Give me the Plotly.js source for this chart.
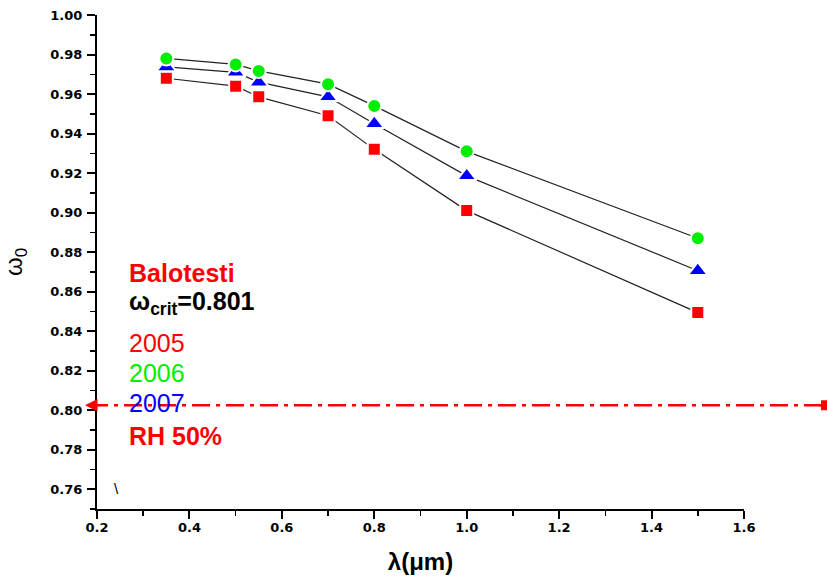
<!DOCTYPE html>
<html>
<head>
<meta charset="utf-8">
<script src="https://cdn.plot.ly/plotly-3.0.1.min.js"></script>
<style>html,body{margin:0;padding:0;background:#fff;}#chart{width:827px;height:582px;}</style>
</head>
<body>
<div id="chart"></div>
<script>
const wavelength = [0.35, 0.5, 0.55, 0.7, 0.8, 1.0, 1.5];
const omega2005 = [0.968, 0.964, 0.9586, 0.949, 0.932, 0.901, 0.8494];
const omega2006 = [0.978, 0.975, 0.9717, 0.965, 0.954, 0.931, 0.887];
const omega2007 = [0.9737, 0.971, 0.966, 0.9586, 0.945, 0.9186, 0.8706];
const omegaCrit = 0.8025;
const xTickVals = [0.2, 0.4, 0.6, 0.8, 1.0, 1.2, 1.4, 1.6];
const yTickVals = [0.76, 0.78, 0.80, 0.82, 0.84, 0.86, 0.88, 0.90, 0.92, 0.94, 0.96, 0.98, 1.00];

function series(y, symbol, color, size) {
  return {
    x: wavelength, y: y, type: 'scatter', mode: 'lines+markers',
    line: {color: '#222', width: 1.2},
    marker: {symbol: symbol, color: color, size: size, line: {color: '#fff', width: 2}},
    cliponaxis: false, showlegend: false, hoverinfo: 'skip'
  };
}

const data = [
  series(omega2005, 'square', '#ff0000', 13),
  series(omega2007, 'triangle-up', '#0000ff', 17),
  series(omega2006, 'circle', '#00ee00', 14)
];

const F = 'Liberation Sans, Arial, sans-serif';
const TF = 'DejaVu Sans, sans-serif';
const py = p => 1 - (p - 15) / (509 - 15);
const txt = (p, text, color, bold) => ({
  xref: 'paper', yref: 'paper', x: (127 - 97) / 647, y: py(p), xanchor: 'left', yanchor: 'middle',
  text: bold ? '<b>' + text + '</b>' : text, showarrow: false,
  font: {family: F, size: 25, color: color}
});

const layout = {
  width: 827, height: 582,
  margin: {l: 97, r: 83, t: 15, b: 73},
  paper_bgcolor: '#fff', plot_bgcolor: '#fff',
  showlegend: false,
  xaxis: {
    range: [0.2, 1.6], tickvals: xTickVals, ticktext: xTickVals.map(v => v.toFixed(1)),
    showgrid: false, zeroline: false, showline: true, linecolor: '#000', linewidth: 2,
    ticks: 'outside', ticklen: 8, tickwidth: 2, tickcolor: '#000',
    minor: {dtick: 0.1, tick0: 0.2, ticks: 'outside', ticklen: 5, tickwidth: 1.5, tickcolor: '#000'},
    tickfont: {family: TF, size: 13, color: '#000', weight: 'bold'},
    ticklabelstandoff: -3,
    title: {text: '<b>λ(μm)</b>', font: {family: F, size: 24, color: '#000'}, standoff: 20}
  },
  yaxis: {
    range: [0.75, 1.0], tickvals: yTickVals, ticktext: yTickVals.map(v => v.toFixed(2)),
    showgrid: false, zeroline: false, showline: true, linecolor: '#000', linewidth: 2,
    ticks: 'outside', ticklen: 8, tickwidth: 2, tickcolor: '#000',
    minor: {dtick: 0.01, tick0: 0.75, ticks: 'outside', ticklen: 5, tickwidth: 1.5, tickcolor: '#000'},
    tickfont: {family: TF, size: 13, color: '#000', weight: 'bold'},
    ticklabelstandoff: 2,
    title: {text: 'ω<sub>0</sub>', font: {family: F, size: 24, color: '#000'}, standoff: 26}
  },
  shapes: [{
    type: 'line', xref: 'paper', yref: 'y',
    x0: (90 - 97) / 647, x1: (823 - 97) / 647, y0: omegaCrit, y1: omegaCrit,
    line: {color: '#ff0000', width: 2.5, dash: '18px,6px,4px,6px'}
  }],
  annotations: [
    txt(272.5, 'Balotesti', '#ff0000', true),
    txt(303, 'ω<sub>crit</sub>=0.801', '#000', true),
    txt(343, '2005', '#ff0000', false),
    txt(373, '2006', '#00ee00', false),
    txt(403, '2007', '#0000ff', false),
    txt(436, 'RH 50%', '#ff0000', true),
    {xref: 'paper', yref: 'paper', x: (116 - 97) / 647, y: py(488), xanchor: 'center', yanchor: 'middle',
     text: '\\', showarrow: false, font: {family: F, size: 15, color: '#000'}},
    {xref: 'paper', yref: 'y', x: (85 - 97) / 647, y: omegaCrit, text: '', showarrow: true,
     arrowhead: 2, arrowsize: 1, arrowwidth: 2.5, arrowcolor: '#ff0000', ax: 10, ay: 0},
    {xref: 'paper', yref: 'y', x: (826 - 97) / 647, y: omegaCrit, text: '', showarrow: true,
     arrowhead: 7, arrowsize: 1, arrowwidth: 2.5, arrowcolor: '#ff0000', ax: -8, ay: 0}
  ]
};

Plotly.newPlot('chart', data, layout, {displayModeBar: false, staticPlot: true});
</script>
</body>
</html>
